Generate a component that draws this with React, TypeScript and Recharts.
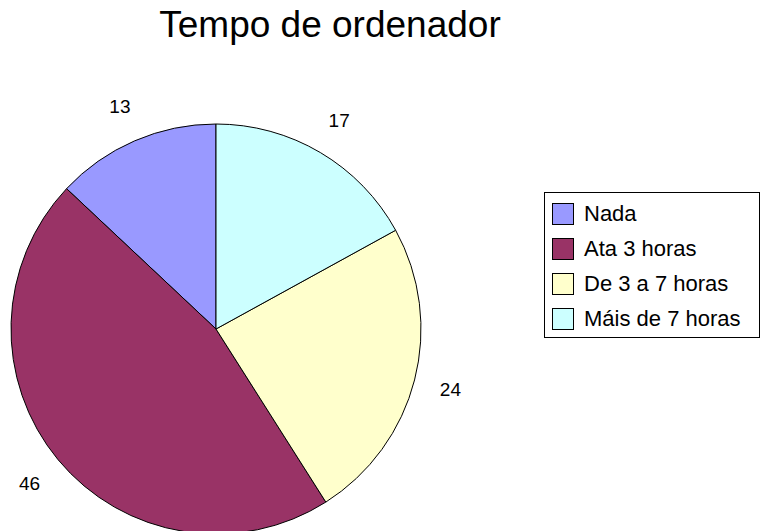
import { PieChart, Pie, Cell, Legend } from "recharts";

const categories = ["Nada", "Ata 3 horas", "De 3 a 7 horas", "Máis de 7 horas"];
const values = [13, 46, 24, 17];
const colors = ["#9999FF", "#993366", "#FFFFCC", "#CCFFFF"];

const data = categories.map((name, i) => ({ name, value: values[i] }));

const FONT = "Liberation Sans, Arial, sans-serif";
const RAD = Math.PI / 180;

function renderLabel(props: any) {
  const { cx, cy, midAngle, outerRadius, value } = props;
  const r = outerRadius + 37;
  const x = cx + r * Math.cos(-midAngle * RAD);
  const y = cy + r * Math.sin(-midAngle * RAD);
  return (
    <text
      x={x}
      y={y}
      textAnchor="middle"
      dominantBaseline="central"
      fontFamily={FONT}
      fontSize={19}
      fill="#000"
    >
      {value}
    </text>
  );
}

function LegendBox() {
  return (
    <div
      style={{
        border: "1px solid #000",
        background: "#fff",
        width: 216,
        height: 146,
        boxSizing: "border-box",
        padding: "3px 0 0 7px",
        fontFamily: FONT,
        fontSize: 22,
        color: "#000",
      }}
    >
      {categories.map((c, i) => (
        <div key={c} style={{ display: "flex", alignItems: "center", height: 35 }}>
          <span
            style={{
              width: 22,
              height: 22,
              boxSizing: "border-box",
              background: colors[i],
              border: "1px solid #000",
              marginRight: 10,
              display: "inline-block",
            }}
          />
          <span style={{ whiteSpace: "nowrap" }}>{c}</span>
        </div>
      ))}
    </div>
  );
}

export default function App() {
  return (
    <div style={{ position: "fixed", left: 0, top: 0, width: 761, height: 531, background: "#fff" }}>
      <div
        style={{
          position: "absolute",
          left: 0,
          width: 660,
          top: 4,
          textAlign: "center",
          fontFamily: FONT,
          fontSize: 37,
          color: "#000",
        }}
      >
        Tempo de ordenador
      </div>
      <PieChart width={761} height={531} margin={{ top: 0, right: 0, bottom: 0, left: 0 }}>
        <Pie
          data={data}
          dataKey="value"
          nameKey="name"
          cx={216}
          cy={329}
          outerRadius={205}
          startAngle={90}
          endAngle={450}
          stroke="#000"
          strokeWidth={1}
          label={renderLabel}
          labelLine={false}
          isAnimationActive={false}
        >
          {data.map((d, i) => (
            <Cell key={d.name} fill={colors[i]} />
          ))}
        </Pie>
        <Legend
          content={LegendBox}
          wrapperStyle={{ position: "absolute", left: 544, top: 192, width: 216, height: 146 }}
        />
      </PieChart>
    </div>
  );
}
